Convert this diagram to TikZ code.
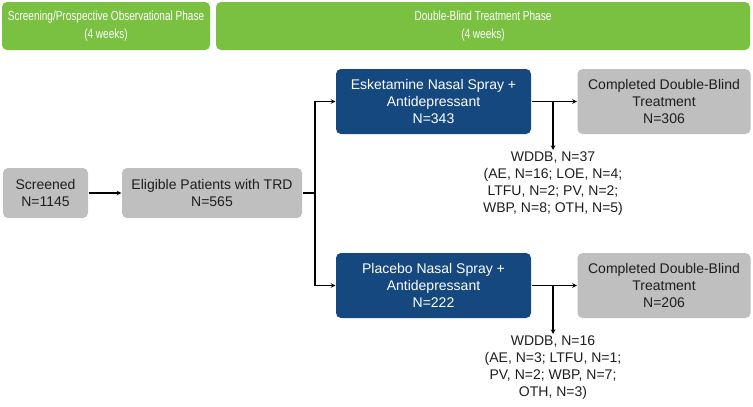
\documentclass[tikz,border=0pt]{standalone}
\usepackage{fontspec}
\setmainfont{Liberation Sans}
\newfontfamily\phasefont[FakeStretch=0.76]{Liberation Sans}
\definecolor{phasegreen}{RGB}{122,193,66}
\definecolor{armblue}{RGB}{22,72,128}
\definecolor{boxgray}{RGB}{191,191,191}
\definecolor{textgray}{RGB}{30,30,30}
\tikzset{
  phase/.style={fill=phasegreen,rounded corners=5pt,text=white,align=center,inner sep=0pt,
    font=\phasefont\fontsize{13.2}{18}\selectfont},
  graybox/.style={fill=boxgray,rounded corners=5pt,text=textgray,align=center,inner sep=0pt},
  armbox/.style={fill=armblue,rounded corners=5pt,text=white,align=center,inner sep=0pt},
  wdnote/.style={text=textgray,align=center,inner sep=1pt}
}
\begin{document}
\begin{tikzpicture}[x=1pt,y=-1pt,line width=1.1pt,>=stealth,font=\fontsize{14}{17}\selectfont]
  \useasboundingbox (0,0) rectangle (753,407);
  % phases
  \node[phase,minimum width=208,minimum height=48](ph1)at(106,26){Screening/Prospective Observational Phase\\(4 weeks)};
  \node[phase,minimum width=534,minimum height=48](ph2)at(483,26){Double-Blind Treatment Phase\\(4 weeks)};
  % screening
  \node[graybox,minimum width=85,minimum height=50](scr)at(45.5,193){Screened\\N=1145};
  \node[graybox,minimum width=180,minimum height=50](elig)at(212,193){Eligible Patients with TRD\\N=565};
  % arms
  \node[armbox,minimum width=195,minimum height=65](esk)at(433.5,101.5){Esketamine Nasal Spray +\\Antidepressant\\N=343};
  \node[armbox,minimum width=195,minimum height=65](plc)at(433.5,285.5){Placebo Nasal Spray +\\Antidepressant\\N=222};
  \node[graybox,minimum width=173,minimum height=65](done1)at(664,101.5){Completed Double-Blind\\Treatment\\N=306};
  \node[graybox,minimum width=173,minimum height=65](done2)at(664,285.5){Completed Double-Blind\\Treatment\\N=206};
  \node[wdnote,anchor=north](wd1)at(553,150){WDDB, N=37\\(AE, N=16; LOE, N=4;\\LTFU, N=2; PV, N=2;\\WBP, N=8; OTH, N=5)};
  \node[wdnote,anchor=north](wd2)at(553,334){WDDB, N=16\\(AE, N=3; LTFU, N=1;\\PV, N=2; WBP, N=7;\\OTH, N=3)};
  % connectors
  \coordinate(split)at(315,193);
  \draw[->](scr)--(elig);
  \draw(elig)--(split);
  \draw[->](split)|-(esk);
  \draw[->](split)|-(plc);
  \draw[->](esk)--(done1);
  \draw[->](plc)--(done2);
  \draw[->](esk.east-|wd1.north)--(wd1.north);
  \draw[->](plc.east-|wd2.north)--(wd2.north);
\end{tikzpicture}
\end{document}
